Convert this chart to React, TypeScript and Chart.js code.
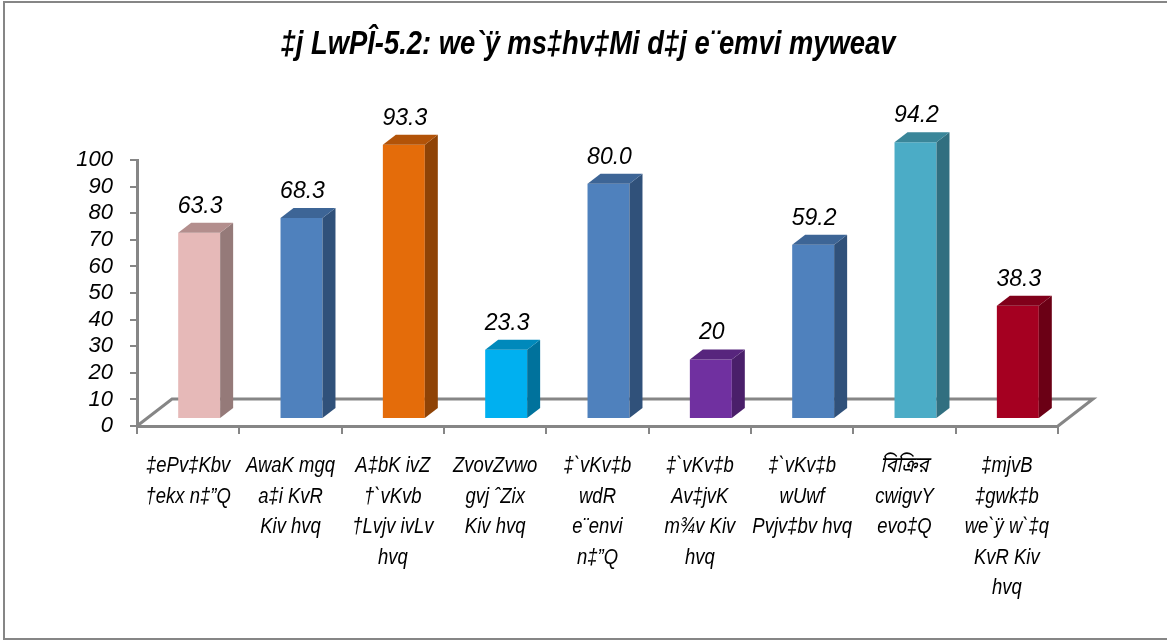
import React, { useEffect, useRef } from "react";
import { Chart, registerables } from "chart.js";

Chart.register(...registerables);

const titleText = "‡j LwPÎ-5.2: we`ÿ ms‡hv‡Mi d‡j e¨emvi myweav";

const categories: string[][] = [
  ["‡ePv‡Kbv", "†ekx n‡”Q"],
  ["AwaK mgq", "a‡i KvR", "Kiv hvq"],
  ["A‡bK ivZ", "†`vKvb", "†Lvjv ivLv", "hvq"],
  ["ZvovZvwo", "gvj ˆZix", "Kiv hvq"],
  ["‡`vKv‡b", "wdR", "e¨envi", "n‡”Q"],
  ["‡`vKv‡b", "Av‡jvK", "m¾v Kiv", "hvq"],
  ["‡`vKv‡b", "wUwf", "Pvjv‡bv hvq"],
  ["বিক্রির", "cwigvY", "evo‡Q"],
  ["‡mjvB", "‡gwk‡b", "we`ÿ w`‡q", "KvR Kiv", "hvq"],
];

const values: number[] = [63.3, 68.3, 93.3, 23.3, 80.0, 20, 59.2, 94.2, 38.3];
const valueLabels: string[] = ["63.3", "68.3", "93.3", "23.3", "80.0", "20", "59.2", "94.2", "38.3"];

const frontColors: string[] = ["#E6B9B8", "#4F81BD", "#E46C0A", "#00B0F0", "#4F81BD", "#7030A0", "#4F81BD", "#4BACC6", "#A50021"];
const sideColors: string[] = ["#957A79", "#30517A", "#8F4306", "#00729C", "#30517A", "#4A1F6A", "#30517A", "#316F80", "#6B0015"];
const topColors: string[] = ["#B38E8D", "#3D6596", "#B25308", "#0089BB", "#3D6596", "#57257D", "#3D6596", "#3A8699", "#80001A"];

const yMin = 0;
const yMax = 100;
const yStep = 10;

const GRAY = "#868686";
const NARROW = 0.83;

const decorPlugin = {
  id: "decor",
  beforeDraw(chart: any) {
    const { ctx, width, height } = chart;
    ctx.save();
    ctx.fillStyle = "#ffffff";
    ctx.fillRect(0, 0, width, height);
    ctx.strokeStyle = GRAY;
    ctx.lineWidth = 2;
    ctx.strokeRect(4, 2, width + 10, height - 4);
    ctx.fillStyle = "#000000";
    ctx.font = "italic bold 33px 'Liberation Sans', Arial, sans-serif";
    ctx.textAlign = "center";
    ctx.textBaseline = "middle";
    ctx.translate(588, 45);
    ctx.scale(NARROW, 1);
    ctx.fillText(titleText, 0, 0);
    ctx.restore();
  },
  beforeDatasetsDraw(chart: any) {
    const { ctx, chartArea } = chart;
    const dx = 35;
    const dy = -27;
    const l = chartArea.left;
    const r = chartArea.right;
    const b = chartArea.bottom;
    ctx.save();
    ctx.strokeStyle = GRAY;
    ctx.lineWidth = 3;
    ctx.beginPath();
    ctx.moveTo(l, b);
    ctx.lineTo(l + dx, b + dy);
    ctx.lineTo(r + dx, b + dy);
    ctx.lineTo(r, b);
    ctx.stroke();
    ctx.restore();
  },
  afterDatasetsDraw(chart: any) {
    const { ctx } = chart;
    const meta = chart.getDatasetMeta(0);
    const dx = 13;
    const dy = -10;
    ctx.save();
    meta.data.forEach((bar: any, i: number) => {
      const p = bar.getProps(["x", "y", "base", "width"], true);
      const left = p.x - p.width / 2;
      const right = p.x + p.width / 2;
      const top = p.y;
      const base = p.base;
      ctx.fillStyle = sideColors[i];
      ctx.beginPath();
      ctx.moveTo(right, top);
      ctx.lineTo(right + dx, top + dy);
      ctx.lineTo(right + dx, base + dy);
      ctx.lineTo(right, base);
      ctx.closePath();
      ctx.fill();
      ctx.fillStyle = topColors[i];
      ctx.beginPath();
      ctx.moveTo(left, top);
      ctx.lineTo(left + dx, top + dy);
      ctx.lineTo(right + dx, top + dy);
      ctx.lineTo(right, top);
      ctx.closePath();
      ctx.fill();
      ctx.fillStyle = "#000000";
      ctx.font = "italic 23px 'Liberation Sans', Arial, sans-serif";
      ctx.textAlign = "center";
      ctx.textBaseline = "alphabetic";
      ctx.fillText(valueLabels[i], p.x + 1, top - 20);
    });
    ctx.restore();
  },
  afterDraw(chart: any) {
    const { ctx } = chart;
    const xs = chart.scales.x;
    ctx.save();
    ctx.fillStyle = "#000000";
    ctx.font = "italic 22px 'Liberation Sans', Arial, 'Noto Sans Bengali', 'Noto Sans', sans-serif";
    ctx.textAlign = "center";
    ctx.textBaseline = "middle";
    categories.forEach((lines, i) => {
      const cx = xs.getPixelForTick(i);
      lines.forEach((line, k) => {
        ctx.save();
        ctx.translate(cx, xs.top + 40 + k * 30.5);
        ctx.scale(0.84, 1);
        ctx.fillText(line, 0, 0);
        ctx.restore();
      });
    });
    ctx.restore();
  },
};

export default function App() {
  const ref = useRef<HTMLCanvasElement | null>(null);

  useEffect(() => {
    if (!ref.current) return;
    const chart = new Chart(ref.current, {
      type: "bar",
      data: {
        labels: categories.map((c) => c.join(" ")),
        datasets: [
          {
            data: values.map((v, i) => ({ x: i, y: v })),
            backgroundColor: frontColors,
            borderWidth: 0,
            xAxisID: "xb",
            yAxisID: "yb",
            barPercentage: 0.41,
            categoryPercentage: 1,
            clip: false as any,
          },
        ],
      },
      options: {
        animation: false,
        responsive: false,
        layout: { padding: { left: 0, right: 109, top: 160, bottom: 0 } },
        plugins: {
          legend: { display: false },
          tooltip: { enabled: false },
          title: { display: false },
        },
        scales: {
          x: {
            type: "category",
            position: "bottom",
            offset: true,
            grid: { display: true, drawOnChartArea: false, offset: true, tickLength: 8, color: GRAY, lineWidth: 2 },
            border: { display: true, color: GRAY, width: 3 },
            ticks: { display: false },
            afterFit: (scale: any) => {
              scale.height = 215;
            },
          },
          xb: {
            type: "linear",
            display: false,
            min: -0.6075,
            max: 8.3925,
            offset: false,
          },
          y: {
            type: "linear",
            position: "left",
            min: yMin,
            max: yMax,
            ticks: {
              stepSize: yStep,
              autoSkip: false,
              color: "#000000",
              padding: 17,
              font: { family: "'Liberation Sans', Arial, sans-serif", size: 22, style: "italic" },
            },
            grid: { display: true, drawOnChartArea: false, tickLength: 7, color: GRAY, lineWidth: 2 },
            border: { display: true, color: GRAY, width: 3 },
            afterFit: (scale: any) => {
              scale.width = 137;
            },
          },
          yb: {
            type: "linear",
            display: false,
            min: -2.73,
            max: 88.1,
          },
        },
      },
      plugins: [decorPlugin],
    } as any);
    return () => chart.destroy();
  }, []);

  return (
    <div style={{ position: "absolute", left: 0, top: 0, width: 1167, height: 641 }}>
      <canvas ref={ref} width={1167} height={641} style={{ width: 1167, height: 641 }} />
    </div>
  );
}
